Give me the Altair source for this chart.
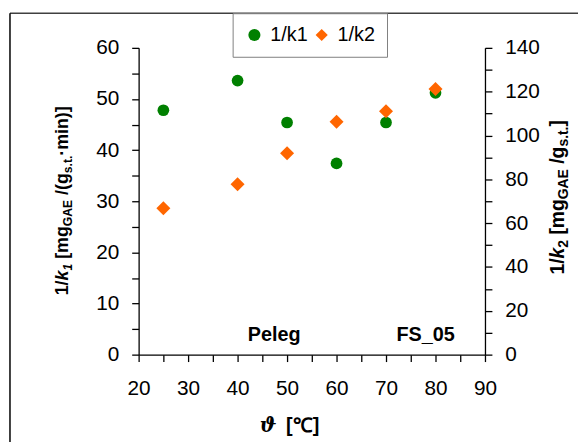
import altair as alt
import pandas as pd

# ---------------- data ----------------
temps = [25, 40, 50, 60, 70, 80]
inv_k1 = [47.8, 53.6, 45.4, 37.4, 45.4, 51.2]
inv_k2 = [66.8, 77.8, 91.9, 106.3, 111.1, 121.2]
series_names = ["1/k1", "1/k2"]
x_ticks = list(range(20, 95, 5))
y1_ticks = list(range(0, 65, 5))
y2_ticks = list(range(0, 150, 10))

df1 = pd.DataFrame({"T": temps, "v": inv_k1, "s": series_names[0]})
df2 = pd.DataFrame({"T": temps, "v": inv_k2, "s": series_names[1]})
dummy = pd.DataFrame({"a": [0]})

FONT = "Liberation Sans"
GREEN = "#008000"
ORANGE = "#FF6600"

W, H = 350, 310
PL, PT = 132, 38

color_scale = alt.Scale(domain=series_names, range=[GREEN, ORANGE])
shape_scale = alt.Scale(domain=series_names, range=["circle", "diamond"])
legend = alt.Legend(
    title=None, orient="none", legendX=235 - 8 - PL, legendY=11 - 8 - PT, direction="horizontal",
    labelFont=FONT, labelFontSize=20, labelColor="black", symbolSize=150,
    symbolStrokeWidth=0, strokeColor="#808080", fillColor="white",
    padding=12, columnPadding=4, labelOffset=6,
)

x_enc = alt.X(
    "T:Q",
    scale=alt.Scale(domain=[20, 90], nice=False, zero=False),
    axis=alt.Axis(values=x_ticks, labelExpr="datum.value % 10 === 0 ? datum.label : ''",
                  title=None, labelPadding=16, labelFlush=False),
)

pts1 = alt.Chart(df1).mark_point(filled=True, size=140, opacity=1).encode(
    x=x_enc,
    y=alt.Y("v:Q", scale=alt.Scale(domain=[0, 60], nice=False),
            axis=alt.Axis(orient="left", values=y1_ticks, title=None, labelFlush=False,
                          labelExpr="datum.value % 10 === 0 ? datum.label : ''")),
    color=alt.Color("s:N", scale=color_scale, legend=legend),
    shape=alt.Shape("s:N", scale=shape_scale, legend=legend),
)

pts2 = alt.Chart(df2).mark_point(filled=True, size=200, opacity=1).encode(
    x=x_enc,
    y=alt.Y("v:Q", scale=alt.Scale(domain=[0, 140], nice=False),
            axis=alt.Axis(orient="right", values=y2_ticks, title=None, labelFlush=False,
                          labelExpr="datum.value % 20 === 0 ? datum.label : ''")),
    color=alt.Color("s:N", scale=color_scale, legend=legend),
    shape=alt.Shape("s:N", scale=shape_scale, legend=legend),
)

# ---------------- frame ----------------
frame_top = alt.Chart(dummy).mark_rule(color="#404040", strokeWidth=1.5).encode(
    x=alt.value(10 - 8 - PL), x2=alt.value(460), y=alt.value(11 - 8 - PT))
frame_left = alt.Chart(dummy).mark_rule(color="black", strokeWidth=1.5).encode(
    x=alt.value(10 - 8 - PL), y=alt.value(11 - 8 - PT), y2=alt.value(420))

# ---------------- text helpers ----------------
WID = {'1': 0.556, '2': 0.556, '/': 0.278, 'k': 0.556, ' ': 0.278, '[': 0.333, ']': 0.333,
       'm': 0.889, 'g': 0.611, 'G': 0.778, 'A': 0.722, 'E': 0.667, '(': 0.333, ')': 0.333,
       's': 0.556, '.': 0.278, 't': 0.333, '·': 0.278, 'i': 0.278, 'n': 0.611}


def rotated_title(segs, cx, cy, base, subscale=0.68):
    sub = base * subscale
    items = []
    for text, is_sub, italic in segs:
        fs = sub if is_sub else base
        lead = len(text) - len(text.lstrip(' '))
        items.append((text.strip(' '), fs, is_sub, italic, lead * WID[' '] * fs,
                      sum(WID.get(c, 0.55) for c in text.strip(' ')) * fs))
    total = sum(i[4] + i[5] for i in items)
    pos = cy + total / 2
    layers = []
    for text, fs, is_sub, italic, gap, w in items:
        pos -= gap
        layers.append(
            alt.Chart(dummy).mark_text(
                text=text, angle=270, align="left", baseline="alphabetic", font=FONT,
                fontSize=fs, fontWeight="bold", fontStyle="italic" if italic else "normal",
                color="black",
            ).encode(x=alt.value(cx + (base * 0.22 if is_sub else 0)), y=alt.value(pos))
        )
        pos -= w
    return layers


left_title = rotated_title(
    [("1/", False, False), ("k", False, True), ("1", True, True), (" [mg", False, False),
     ("GAE", True, False), (" /(g", False, False), ("s.t.", True, False), ("·min)]", False, False)],
    cx=69 - 8 - PL, cy=H / 2, base=18)

right_title = rotated_title(
    [("1/", False, False), ("k", False, True), ("2", True, False), (" [mg", False, False),
     ("GAE", True, False), (" /g", False, False), ("s.t.", True, False), ("]", False, False)],
    cx=570 - 8 - PL, cy=H / 2 - 4, base=19.5, subscale=0.72)

theta = alt.Chart(dummy).mark_text(
    text="ϑ", font="DejaVu Serif", fontSize=20, fontWeight="bold", fontStyle="italic",
    align="center", baseline="alphabetic", color="black").encode(
    x=alt.value(271 - 8 - PL), y=alt.value(434 - 8 - PT))
unit = alt.Chart(dummy).mark_text(
    text="[℃]", font=FONT, fontSize=20, fontWeight="bold",
    align="left", baseline="alphabetic", color="black").encode(
    x=alt.value(289 - 8 - PL), y=alt.value(434 - 8 - PT))

peleg = alt.Chart(dummy).mark_text(
    text="Peleg", font=FONT, fontSize=20, fontWeight="bold", align="center",
    baseline="alphabetic", color="black").encode(
    x=alt.value(277 - 8 - PL), y=alt.value(342 - 8 - PT))
fs05 = alt.Chart(dummy).mark_text(
    text="FS_05", font=FONT, fontSize=20, fontWeight="bold", align="center",
    baseline="alphabetic", color="black").encode(
    x=alt.value(430 - 8 - PL), y=alt.value(342 - 8 - PT))

chart = alt.layer(
    frame_top, frame_left, pts1, pts2, peleg, fs05, theta, unit, *left_title, *right_title
).resolve_scale(y="independent").properties(
    width=W, height=H, autosize="none",
    padding={"left": PL, "top": PT, "right": 586 - 8 - PL - W - 2, "bottom": 444 - 8 - PT - H - 2},
).configure_view(stroke=None).configure_axis(
    labelFont=FONT, labelFontSize=21, labelColor="black", domainColor="black",
    tickColor="black", tickSize=7, domainWidth=1.3, tickWidth=1.3, grid=False,
    labelPadding=13,
)

chart.save("out.html", embed_options={"renderer": "svg", "actions": False})
